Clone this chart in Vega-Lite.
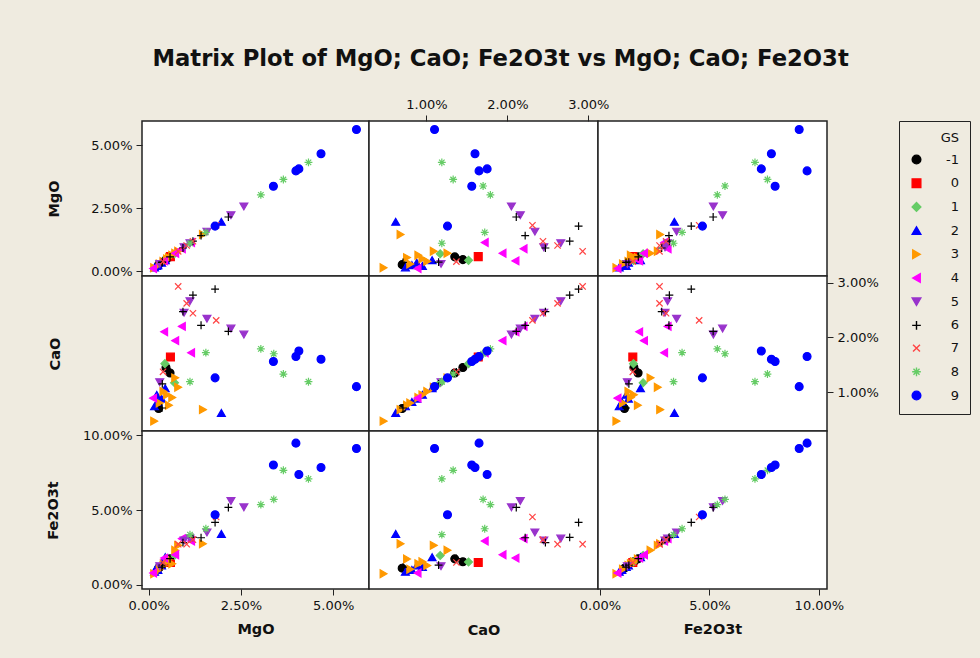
{
  "$schema": "https://vega.github.io/schema/vega-lite/v6.json",
  "background": "#efebe0",
  "padding": {"left": 44, "top": 47, "right": 10, "bottom": 21},
  "title": {"text": "Matrix Plot of MgO; CaO; Fe2O3t vs MgO; CaO; Fe2O3t", "font": "DejaVu Sans", "fontSize": 22.7, "fontWeight": "bold", "color": "#111111", "offset": 27, "anchor": "middle", "dx": -7},
  "data": {"values": [
    {"GS": -1, "MgO": 0.0058, "CaO": 0.0135, "Fe2O3t": 0.0174},
    {"GS": -1, "MgO": 0.0047, "CaO": 0.0145, "Fe2O3t": 0.0155},
    {"GS": -1, "MgO": 0.0027, "CaO": 0.0070, "Fe2O3t": 0.0112},
    {"GS": 0, "MgO": 0.0059, "CaO": 0.0164, "Fe2O3t": 0.0150},
    {"GS": 1, "MgO": 0.0044, "CaO": 0.0152, "Fe2O3t": 0.0153},
    {"GS": 1, "MgO": 0.0070, "CaO": 0.0117, "Fe2O3t": 0.0197},
    {"GS": 2, "MgO": 0.0197, "CaO": 0.0062, "Fe2O3t": 0.0340},
    {"GS": 2, "MgO": 0.0016, "CaO": 0.0074, "Fe2O3t": 0.0088},
    {"GS": 2, "MgO": 0.0025, "CaO": 0.0082, "Fe2O3t": 0.0100},
    {"GS": 2, "MgO": 0.0045, "CaO": 0.0107, "Fe2O3t": 0.0185},
    {"GS": 2, "MgO": 0.0022, "CaO": 0.0095, "Fe2O3t": 0.0120},
    {"GS": 2, "MgO": 0.0035, "CaO": 0.0088, "Fe2O3t": 0.0130},
    {"GS": 3, "MgO": 0.0015, "CaO": 0.0047, "Fe2O3t": 0.0075},
    {"GS": 3, "MgO": 0.0147, "CaO": 0.0068, "Fe2O3t": 0.0275},
    {"GS": 3, "MgO": 0.0055, "CaO": 0.0076, "Fe2O3t": 0.0173},
    {"GS": 3, "MgO": 0.0064, "CaO": 0.0090, "Fe2O3t": 0.0141},
    {"GS": 3, "MgO": 0.0080, "CaO": 0.0109, "Fe2O3t": 0.0264},
    {"GS": 3, "MgO": 0.0072, "CaO": 0.0126, "Fe2O3t": 0.0231},
    {"GS": 3, "MgO": 0.0040, "CaO": 0.0101, "Fe2O3t": 0.0130},
    {"GS": 3, "MgO": 0.0050, "CaO": 0.0095, "Fe2O3t": 0.0155},
    {"GS": 3, "MgO": 0.0030, "CaO": 0.0080, "Fe2O3t": 0.0105},
    {"GS": 4, "MgO": 0.0115, "CaO": 0.0172, "Fe2O3t": 0.0293},
    {"GS": 4, "MgO": 0.0072, "CaO": 0.0194, "Fe2O3t": 0.0201},
    {"GS": 4, "MgO": 0.0090, "CaO": 0.0220, "Fe2O3t": 0.0309},
    {"GS": 4, "MgO": 0.0042, "CaO": 0.0210, "Fe2O3t": 0.0179},
    {"GS": 4, "MgO": 0.0012, "CaO": 0.0089, "Fe2O3t": 0.0080},
    {"GS": 5, "MgO": 0.0258, "CaO": 0.0205, "Fe2O3t": 0.0518},
    {"GS": 5, "MgO": 0.0223, "CaO": 0.0216, "Fe2O3t": 0.0560},
    {"GS": 5, "MgO": 0.0158, "CaO": 0.0234, "Fe2O3t": 0.0350},
    {"GS": 5, "MgO": 0.0096, "CaO": 0.0245, "Fe2O3t": 0.0297},
    {"GS": 5, "MgO": 0.0112, "CaO": 0.0266, "Fe2O3t": 0.0309},
    {"GS": 5, "MgO": 0.0030, "CaO": 0.0118, "Fe2O3t": 0.0125},
    {"GS": 6, "MgO": 0.0216, "CaO": 0.0211, "Fe2O3t": 0.0517},
    {"GS": 6, "MgO": 0.0142, "CaO": 0.0222, "Fe2O3t": 0.0315},
    {"GS": 6, "MgO": 0.0093, "CaO": 0.0247, "Fe2O3t": 0.0282},
    {"GS": 6, "MgO": 0.0120, "CaO": 0.0277, "Fe2O3t": 0.0317},
    {"GS": 6, "MgO": 0.0180, "CaO": 0.0288, "Fe2O3t": 0.0417},
    {"GS": 6, "MgO": 0.0037, "CaO": 0.0115, "Fe2O3t": 0.0132},
    {"GS": 6, "MgO": 0.0058, "CaO": 0.0137, "Fe2O3t": 0.0175},
    {"GS": 6, "MgO": 0.0036, "CaO": 0.0071, "Fe2O3t": 0.0119},
    {"GS": 7, "MgO": 0.0183, "CaO": 0.0231, "Fe2O3t": 0.0453},
    {"GS": 7, "MgO": 0.0120, "CaO": 0.0244, "Fe2O3t": 0.0302},
    {"GS": 7, "MgO": 0.0103, "CaO": 0.0262, "Fe2O3t": 0.0272},
    {"GS": 7, "MgO": 0.0080, "CaO": 0.0293, "Fe2O3t": 0.0272},
    {"GS": 7, "MgO": 0.0039, "CaO": 0.0137, "Fe2O3t": 0.0150},
    {"GS": 8, "MgO": 0.0433, "CaO": 0.0119, "Fe2O3t": 0.0708},
    {"GS": 8, "MgO": 0.0365, "CaO": 0.0133, "Fe2O3t": 0.0765},
    {"GS": 8, "MgO": 0.0339, "CaO": 0.0170, "Fe2O3t": 0.0571},
    {"GS": 8, "MgO": 0.0304, "CaO": 0.0179, "Fe2O3t": 0.0536},
    {"GS": 8, "MgO": 0.0155, "CaO": 0.0172, "Fe2O3t": 0.0375},
    {"GS": 8, "MgO": 0.0112, "CaO": 0.0119, "Fe2O3t": 0.0336},
    {"GS": 9, "MgO": 0.0563, "CaO": 0.0110, "Fe2O3t": 0.0910},
    {"GS": 9, "MgO": 0.0467, "CaO": 0.0160, "Fe2O3t": 0.0783},
    {"GS": 9, "MgO": 0.0399, "CaO": 0.0165, "Fe2O3t": 0.0946},
    {"GS": 9, "MgO": 0.0407, "CaO": 0.0175, "Fe2O3t": 0.0737},
    {"GS": 9, "MgO": 0.0338, "CaO": 0.0156, "Fe2O3t": 0.0800},
    {"GS": 9, "MgO": 0.0180, "CaO": 0.0126, "Fe2O3t": 0.0468}
  ]},
  "columns": 3,
  "spacing": 0,
  "bounds": "flush",
  "concat": [
    {"width": 227, "height": 155, "mark": {"type": "point", "filled": true, "size": 62, "strokeWidth": 1.2, "opacity": 1},
     "encoding": {
       "x": {"field": "MgO", "type": "quantitative", "scale": {"domain": [-0.0018, 0.0597], "nice": false, "zero": false}, "axis": null},
       "y": {"field": "MgO", "type": "quantitative", "scale": {"domain": [-0.0018, 0.0597], "nice": false, "zero": false}, "axis": {"orient": "left", "values": [0, 0.025, 0.05], "format": ".2%", "title": "MgO", "titlePadding": 29}},
       "fill": {"field": "GS", "type": "nominal", "scale": {"domain": [-1, 0, 1, 2, 3, 4, 5, 6, 7, 8, 9], "range": ["#000000", "#ff0000", "#66cc66", "#0000ff", "#ff9900", "#ff00ff", "#9933cc", "#000000", "#ff4444", "#66cc66", "#0000ff"]}, "legend": {"title": "GS"}},
       "stroke": {"field": "GS", "type": "nominal", "scale": {"domain": [-1, 0, 1, 2, 3, 4, 5, 6, 7, 8, 9], "range": ["#000000", "#ff0000", "#66cc66", "#0000ff", "#ff9900", "#ff00ff", "#9933cc", "#000000", "#ff4444", "#66cc66", "#0000ff"]}, "legend": {"title": "GS"}},
       "shape": {"field": "GS", "type": "nominal", "scale": {"domain": [-1, 0, 1, 2, 3, 4, 5, 6, 7, 8, 9], "range": ["circle", "square", "diamond", "triangle-up", "triangle-right", "triangle-left", "triangle-down", "M-1,0H1M0,-1V1", "M-0.8,-0.8L0.8,0.8M-0.8,0.8L0.8,-0.8", "M-1,0H1M0,-1V1M-0.7,-0.7L0.7,0.7M-0.7,0.7L0.7,-0.7", "circle"]}, "legend": {"title": "GS"}}
     }},
    {"width": 229, "height": 155, "mark": {"type": "point", "filled": true, "size": 62, "strokeWidth": 1.2, "opacity": 1},
     "encoding": {
       "x": {"field": "CaO", "type": "quantitative", "scale": {"domain": [0.0029, 0.0312], "nice": false, "zero": false}, "axis": {"orient": "top", "values": [0.01, 0.02, 0.03], "format": ".2%", "title": null}},
       "y": {"field": "MgO", "type": "quantitative", "scale": {"domain": [-0.0018, 0.0597], "nice": false, "zero": false}, "axis": null},
       "fill": {"field": "GS", "type": "nominal", "scale": {"domain": [-1, 0, 1, 2, 3, 4, 5, 6, 7, 8, 9], "range": ["#000000", "#ff0000", "#66cc66", "#0000ff", "#ff9900", "#ff00ff", "#9933cc", "#000000", "#ff4444", "#66cc66", "#0000ff"]}, "legend": {"title": "GS"}},
       "stroke": {"field": "GS", "type": "nominal", "scale": {"domain": [-1, 0, 1, 2, 3, 4, 5, 6, 7, 8, 9], "range": ["#000000", "#ff0000", "#66cc66", "#0000ff", "#ff9900", "#ff00ff", "#9933cc", "#000000", "#ff4444", "#66cc66", "#0000ff"]}, "legend": {"title": "GS"}},
       "shape": {"field": "GS", "type": "nominal", "scale": {"domain": [-1, 0, 1, 2, 3, 4, 5, 6, 7, 8, 9], "range": ["circle", "square", "diamond", "triangle-up", "triangle-right", "triangle-left", "triangle-down", "M-1,0H1M0,-1V1", "M-0.8,-0.8L0.8,0.8M-0.8,0.8L0.8,-0.8", "M-1,0H1M0,-1V1M-0.7,-0.7L0.7,0.7M-0.7,0.7L0.7,-0.7", "circle"]}, "legend": {"title": "GS"}}
     }},
    {"width": 229, "height": 155, "mark": {"type": "point", "filled": true, "size": 62, "strokeWidth": 1.2, "opacity": 1},
     "encoding": {
       "x": {"field": "Fe2O3t", "type": "quantitative", "scale": {"domain": [-0.0009, 0.1037], "nice": false, "zero": false}, "axis": null},
       "y": {"field": "MgO", "type": "quantitative", "scale": {"domain": [-0.0018, 0.0597], "nice": false, "zero": false}, "axis": null},
       "fill": {"field": "GS", "type": "nominal", "scale": {"domain": [-1, 0, 1, 2, 3, 4, 5, 6, 7, 8, 9], "range": ["#000000", "#ff0000", "#66cc66", "#0000ff", "#ff9900", "#ff00ff", "#9933cc", "#000000", "#ff4444", "#66cc66", "#0000ff"]}, "legend": {"title": "GS"}},
       "stroke": {"field": "GS", "type": "nominal", "scale": {"domain": [-1, 0, 1, 2, 3, 4, 5, 6, 7, 8, 9], "range": ["#000000", "#ff0000", "#66cc66", "#0000ff", "#ff9900", "#ff00ff", "#9933cc", "#000000", "#ff4444", "#66cc66", "#0000ff"]}, "legend": {"title": "GS"}},
       "shape": {"field": "GS", "type": "nominal", "scale": {"domain": [-1, 0, 1, 2, 3, 4, 5, 6, 7, 8, 9], "range": ["circle", "square", "diamond", "triangle-up", "triangle-right", "triangle-left", "triangle-down", "M-1,0H1M0,-1V1", "M-0.8,-0.8L0.8,0.8M-0.8,0.8L0.8,-0.8", "M-1,0H1M0,-1V1M-0.7,-0.7L0.7,0.7M-0.7,0.7L0.7,-0.7", "circle"]}, "legend": {"title": "GS"}}
     }},
    {"width": 227, "height": 155, "mark": {"type": "point", "filled": true, "size": 62, "strokeWidth": 1.2, "opacity": 1},
     "encoding": {
       "x": {"field": "MgO", "type": "quantitative", "scale": {"domain": [-0.0018, 0.0597], "nice": false, "zero": false}, "axis": null},
       "y": {"field": "CaO", "type": "quantitative", "scale": {"domain": [0.0029, 0.0312], "nice": false, "zero": false}, "axis": {"orient": "left", "labels": false, "ticks": false, "title": "CaO", "titlePadding": 80}},
       "fill": {"field": "GS", "type": "nominal", "scale": {"domain": [-1, 0, 1, 2, 3, 4, 5, 6, 7, 8, 9], "range": ["#000000", "#ff0000", "#66cc66", "#0000ff", "#ff9900", "#ff00ff", "#9933cc", "#000000", "#ff4444", "#66cc66", "#0000ff"]}, "legend": {"title": "GS"}},
       "stroke": {"field": "GS", "type": "nominal", "scale": {"domain": [-1, 0, 1, 2, 3, 4, 5, 6, 7, 8, 9], "range": ["#000000", "#ff0000", "#66cc66", "#0000ff", "#ff9900", "#ff00ff", "#9933cc", "#000000", "#ff4444", "#66cc66", "#0000ff"]}, "legend": {"title": "GS"}},
       "shape": {"field": "GS", "type": "nominal", "scale": {"domain": [-1, 0, 1, 2, 3, 4, 5, 6, 7, 8, 9], "range": ["circle", "square", "diamond", "triangle-up", "triangle-right", "triangle-left", "triangle-down", "M-1,0H1M0,-1V1", "M-0.8,-0.8L0.8,0.8M-0.8,0.8L0.8,-0.8", "M-1,0H1M0,-1V1M-0.7,-0.7L0.7,0.7M-0.7,0.7L0.7,-0.7", "circle"]}, "legend": {"title": "GS"}}
     }},
    {"width": 229, "height": 155, "mark": {"type": "point", "filled": true, "size": 62, "strokeWidth": 1.2, "opacity": 1},
     "encoding": {
       "x": {"field": "CaO", "type": "quantitative", "scale": {"domain": [0.0029, 0.0312], "nice": false, "zero": false}, "axis": null},
       "y": {"field": "CaO", "type": "quantitative", "scale": {"domain": [0.0029, 0.0312], "nice": false, "zero": false}, "axis": null},
       "fill": {"field": "GS", "type": "nominal", "scale": {"domain": [-1, 0, 1, 2, 3, 4, 5, 6, 7, 8, 9], "range": ["#000000", "#ff0000", "#66cc66", "#0000ff", "#ff9900", "#ff00ff", "#9933cc", "#000000", "#ff4444", "#66cc66", "#0000ff"]}, "legend": {"title": "GS"}},
       "stroke": {"field": "GS", "type": "nominal", "scale": {"domain": [-1, 0, 1, 2, 3, 4, 5, 6, 7, 8, 9], "range": ["#000000", "#ff0000", "#66cc66", "#0000ff", "#ff9900", "#ff00ff", "#9933cc", "#000000", "#ff4444", "#66cc66", "#0000ff"]}, "legend": {"title": "GS"}},
       "shape": {"field": "GS", "type": "nominal", "scale": {"domain": [-1, 0, 1, 2, 3, 4, 5, 6, 7, 8, 9], "range": ["circle", "square", "diamond", "triangle-up", "triangle-right", "triangle-left", "triangle-down", "M-1,0H1M0,-1V1", "M-0.8,-0.8L0.8,0.8M-0.8,0.8L0.8,-0.8", "M-1,0H1M0,-1V1M-0.7,-0.7L0.7,0.7M-0.7,0.7L0.7,-0.7", "circle"]}, "legend": {"title": "GS"}}
     }},
    {"width": 229, "height": 155, "mark": {"type": "point", "filled": true, "size": 62, "strokeWidth": 1.2, "opacity": 1},
     "encoding": {
       "x": {"field": "Fe2O3t", "type": "quantitative", "scale": {"domain": [-0.0009, 0.1037], "nice": false, "zero": false}, "axis": null},
       "y": {"field": "CaO", "type": "quantitative", "scale": {"domain": [0.0029, 0.0312], "nice": false, "zero": false}, "axis": {"orient": "right", "values": [0.01, 0.02, 0.03], "format": ".2%", "title": null}},
       "fill": {"field": "GS", "type": "nominal", "scale": {"domain": [-1, 0, 1, 2, 3, 4, 5, 6, 7, 8, 9], "range": ["#000000", "#ff0000", "#66cc66", "#0000ff", "#ff9900", "#ff00ff", "#9933cc", "#000000", "#ff4444", "#66cc66", "#0000ff"]}, "legend": {"title": "GS"}},
       "stroke": {"field": "GS", "type": "nominal", "scale": {"domain": [-1, 0, 1, 2, 3, 4, 5, 6, 7, 8, 9], "range": ["#000000", "#ff0000", "#66cc66", "#0000ff", "#ff9900", "#ff00ff", "#9933cc", "#000000", "#ff4444", "#66cc66", "#0000ff"]}, "legend": {"title": "GS"}},
       "shape": {"field": "GS", "type": "nominal", "scale": {"domain": [-1, 0, 1, 2, 3, 4, 5, 6, 7, 8, 9], "range": ["circle", "square", "diamond", "triangle-up", "triangle-right", "triangle-left", "triangle-down", "M-1,0H1M0,-1V1", "M-0.8,-0.8L0.8,0.8M-0.8,0.8L0.8,-0.8", "M-1,0H1M0,-1V1M-0.7,-0.7L0.7,0.7M-0.7,0.7L0.7,-0.7", "circle"]}, "legend": {"title": "GS"}}
     }},
    {"width": 227, "height": 158, "mark": {"type": "point", "filled": true, "size": 62, "strokeWidth": 1.2, "opacity": 1},
     "encoding": {
       "x": {"field": "MgO", "type": "quantitative", "scale": {"domain": [-0.0018, 0.0597], "nice": false, "zero": false}, "axis": {"orient": "bottom", "values": [0, 0.025, 0.05], "format": ".2%", "title": "MgO", "titlePadding": 10}},
       "y": {"field": "Fe2O3t", "type": "quantitative", "scale": {"domain": [-0.0027, 0.1027], "nice": false, "zero": false}, "axis": {"orient": "left", "values": [0, 0.05, 0.1], "format": ".2%", "title": "Fe2O3t", "titlePadding": 22}},
       "fill": {"field": "GS", "type": "nominal", "scale": {"domain": [-1, 0, 1, 2, 3, 4, 5, 6, 7, 8, 9], "range": ["#000000", "#ff0000", "#66cc66", "#0000ff", "#ff9900", "#ff00ff", "#9933cc", "#000000", "#ff4444", "#66cc66", "#0000ff"]}, "legend": {"title": "GS"}},
       "stroke": {"field": "GS", "type": "nominal", "scale": {"domain": [-1, 0, 1, 2, 3, 4, 5, 6, 7, 8, 9], "range": ["#000000", "#ff0000", "#66cc66", "#0000ff", "#ff9900", "#ff00ff", "#9933cc", "#000000", "#ff4444", "#66cc66", "#0000ff"]}, "legend": {"title": "GS"}},
       "shape": {"field": "GS", "type": "nominal", "scale": {"domain": [-1, 0, 1, 2, 3, 4, 5, 6, 7, 8, 9], "range": ["circle", "square", "diamond", "triangle-up", "triangle-right", "triangle-left", "triangle-down", "M-1,0H1M0,-1V1", "M-0.8,-0.8L0.8,0.8M-0.8,0.8L0.8,-0.8", "M-1,0H1M0,-1V1M-0.7,-0.7L0.7,0.7M-0.7,0.7L0.7,-0.7", "circle"]}, "legend": {"title": "GS"}}
     }},
    {"width": 229, "height": 158, "mark": {"type": "point", "filled": true, "size": 62, "strokeWidth": 1.2, "opacity": 1},
     "encoding": {
       "x": {"field": "CaO", "type": "quantitative", "scale": {"domain": [0.0029, 0.0312], "nice": false, "zero": false}, "axis": {"orient": "bottom", "labels": false, "ticks": false, "title": "CaO", "titlePadding": 34}},
       "y": {"field": "Fe2O3t", "type": "quantitative", "scale": {"domain": [-0.0027, 0.1027], "nice": false, "zero": false}, "axis": null},
       "fill": {"field": "GS", "type": "nominal", "scale": {"domain": [-1, 0, 1, 2, 3, 4, 5, 6, 7, 8, 9], "range": ["#000000", "#ff0000", "#66cc66", "#0000ff", "#ff9900", "#ff00ff", "#9933cc", "#000000", "#ff4444", "#66cc66", "#0000ff"]}, "legend": {"title": "GS"}},
       "stroke": {"field": "GS", "type": "nominal", "scale": {"domain": [-1, 0, 1, 2, 3, 4, 5, 6, 7, 8, 9], "range": ["#000000", "#ff0000", "#66cc66", "#0000ff", "#ff9900", "#ff00ff", "#9933cc", "#000000", "#ff4444", "#66cc66", "#0000ff"]}, "legend": {"title": "GS"}},
       "shape": {"field": "GS", "type": "nominal", "scale": {"domain": [-1, 0, 1, 2, 3, 4, 5, 6, 7, 8, 9], "range": ["circle", "square", "diamond", "triangle-up", "triangle-right", "triangle-left", "triangle-down", "M-1,0H1M0,-1V1", "M-0.8,-0.8L0.8,0.8M-0.8,0.8L0.8,-0.8", "M-1,0H1M0,-1V1M-0.7,-0.7L0.7,0.7M-0.7,0.7L0.7,-0.7", "circle"]}, "legend": {"title": "GS"}}
     }},
    {"width": 229, "height": 158, "mark": {"type": "point", "filled": true, "size": 62, "strokeWidth": 1.2, "opacity": 1},
     "encoding": {
       "x": {"field": "Fe2O3t", "type": "quantitative", "scale": {"domain": [-0.0009, 0.1037], "nice": false, "zero": false}, "axis": {"orient": "bottom", "values": [0, 0.05, 0.1], "format": ".2%", "title": "Fe2O3t", "titlePadding": 10}},
       "y": {"field": "Fe2O3t", "type": "quantitative", "scale": {"domain": [-0.0027, 0.1027], "nice": false, "zero": false}, "axis": null},
       "fill": {"field": "GS", "type": "nominal", "scale": {"domain": [-1, 0, 1, 2, 3, 4, 5, 6, 7, 8, 9], "range": ["#000000", "#ff0000", "#66cc66", "#0000ff", "#ff9900", "#ff00ff", "#9933cc", "#000000", "#ff4444", "#66cc66", "#0000ff"]}, "legend": {"title": "GS"}},
       "stroke": {"field": "GS", "type": "nominal", "scale": {"domain": [-1, 0, 1, 2, 3, 4, 5, 6, 7, 8, 9], "range": ["#000000", "#ff0000", "#66cc66", "#0000ff", "#ff9900", "#ff00ff", "#9933cc", "#000000", "#ff4444", "#66cc66", "#0000ff"]}, "legend": {"title": "GS"}},
       "shape": {"field": "GS", "type": "nominal", "scale": {"domain": [-1, 0, 1, 2, 3, 4, 5, 6, 7, 8, 9], "range": ["circle", "square", "diamond", "triangle-up", "triangle-right", "triangle-left", "triangle-down", "M-1,0H1M0,-1V1", "M-0.8,-0.8L0.8,0.8M-0.8,0.8L0.8,-0.8", "M-1,0H1M0,-1V1M-0.7,-0.7L0.7,0.7M-0.7,0.7L0.7,-0.7", "circle"]}, "legend": {"title": "GS"}}
     }}
  ],
  "config": {
    "view": {"stroke": "#222222", "strokeWidth": 1.5, "fill": "white"},
    "axis": {"labelFont": "DejaVu Sans", "labelFontSize": 13, "labelColor": "#111111", "titleFont": "DejaVu Sans", "titleFontSize": 14.5, "titleFontWeight": "bold", "titleColor": "#111111", "domain": false, "grid": false, "tickColor": "#222222", "tickSize": 6, "labelPadding": 4},
    "legend": {"strokeColor": "#222222", "padding": 11, "offset": 19, "titleFont": "DejaVu Sans", "titleFontSize": 13, "titleFontWeight": "normal", "titleColor": "#111111", "titleAlign": "right", "titleAnchor": "end", "titlePadding": 8, "labelFont": "DejaVu Sans", "labelFontSize": 13, "labelColor": "#111111", "labelAlign": "right", "labelOffset": 36, "symbolSize": 75, "symbolStrokeWidth": 1.4, "rowPadding": 8.7}
  }
}
